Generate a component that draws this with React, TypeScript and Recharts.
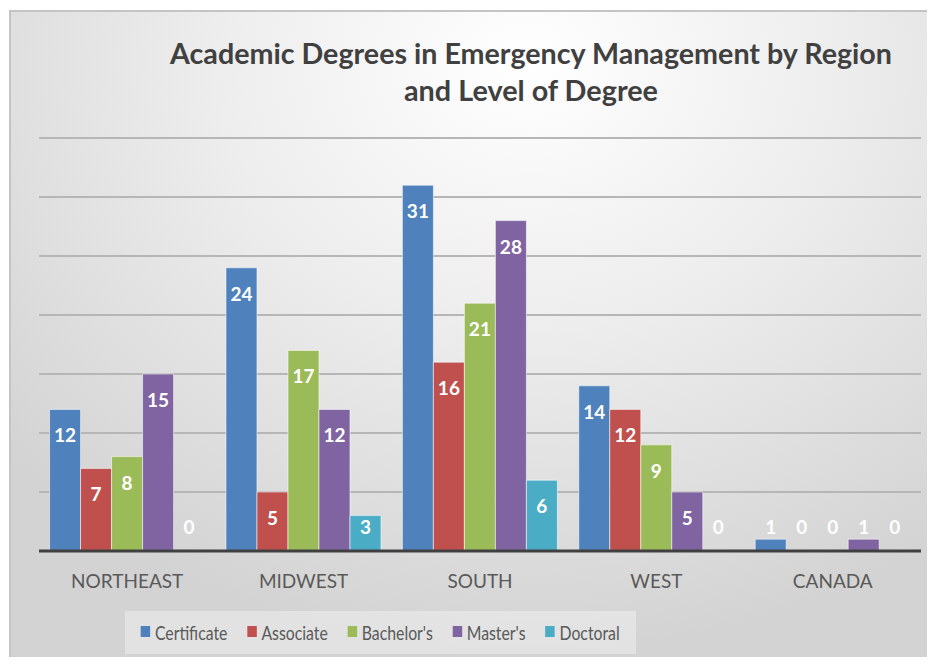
import { Bar, BarChart, CartesianGrid, LabelList, XAxis, YAxis } from "recharts";

const regions = ["NORTHEAST", "MIDWEST", "SOUTH", "WEST", "CANADA"];
const certificate = [12, 24, 31, 14, 1];
const associate = [7, 5, 16, 12, 0];
const bachelors = [8, 17, 21, 9, 0];
const masters = [15, 12, 28, 5, 1];
const doctoral = [0, 3, 6, 0, 0];
const yTicks = [0, 5, 10, 15, 20, 25, 30, 35];

const series = [
  { key: "certificate", name: "Certificate", color: "#4f81bd", values: certificate },
  { key: "associate", name: "Associate", color: "#c0504d", values: associate },
  { key: "bachelors", name: "Bachelor's", color: "#9bbb59", values: bachelors },
  { key: "masters", name: "Master's", color: "#8064a2", values: masters },
  { key: "doctoral", name: "Doctoral", color: "#4bacc6", values: doctoral },
];

const data = regions.map((region, i) => {
  const row: Record<string, string | number> = { region };
  series.forEach((s) => (row[s.key] = s.values[i]));
  return row;
});

const FONT = "Lato, 'Open Sans', sans-serif";

function BarLabel(props: any) {
  const { x, y, width, height, value } = props;
  const top = Number(y);
  const h = Number(height);
  const ty = Math.min(top + 33, top + h - 17);
  return (
    <text
      x={Number(x) + Number(width) / 2}
      y={ty}
      textAnchor="middle"
      fill="#ffffff"
      fontSize={19}
      fontWeight={700}
      fontFamily={FONT}
    >
      {value}
    </text>
  );
}

function RegionTick(props: any) {
  const { x, y, payload } = props;
  return (
    <text x={x} y={Number(y) + 29} textAnchor="middle" fill="#595959" fontSize={19} fontFamily={FONT}>
      {payload.value}
    </text>
  );
}

export default function App() {
  return (
    <div style={{ position: "relative", width: 935, height: 665, margin: -8, background: "#fff", overflow: "hidden" }}>
      <div
        style={{
          position: "absolute",
          left: 9,
          top: 10,
          width: 926,
          height: 655,
          background: "radial-gradient(ellipse 75% 90% at 56% 8%, #ffffff 0%, #ededed 45%, #d3d3d3 100%)",
          boxShadow: "inset 2px 2px 0 #c4c4c4",
        }}
      >
        <BarChart
          width={926}
          height={655}
          data={data}
          margin={{ top: 128, right: 14, bottom: 84, left: 30 }}
          barCategoryGap="6%"
          barGap={0}
        >
          <CartesianGrid vertical={false} stroke="#b6b6b6" strokeWidth={2} />
          <YAxis hide domain={[0, 35]} ticks={yTicks} />
          <XAxis
            dataKey="region"
            axisLine={{ stroke: "#404040", strokeWidth: 3 }}
            tickLine={false}
            tick={<RegionTick />}
            height={30}
          />
          {series.map((s) => (
            <Bar
              key={s.key}
              dataKey={s.key}
              name={s.name}
              fill={s.color}
              stroke="rgba(255,255,255,0.55)"
              strokeWidth={1}
              minPointSize={0.01}
              isAnimationActive={false}
            >
              <LabelList dataKey={s.key} content={<BarLabel />} />
            </Bar>
          ))}
        </BarChart>
        <div
          style={{
            position: "absolute",
            left: 116,
            top: 601,
            width: 511,
            height: 43,
            background: "rgba(255,255,255,0.35)",
            display: "flex",
            alignItems: "center",
            justifyContent: "center",
          }}
        >
          <div
            style={{
              display: "flex",
              alignItems: "center",
              gap: 25,
              fontFamily: FONT,
              fontSize: 20,
              color: "#595959",
              transform: "scaleX(0.79) translateY(-1px)",
              transformOrigin: "center",
              whiteSpace: "nowrap",
              flexShrink: 0,
            }}
          >
            {series.map((s) => (
              <div key={s.key} style={{ display: "flex", alignItems: "center" }}>
                <span style={{ width: 12, height: 11, background: s.color, display: "inline-block", marginRight: 6 }} />
                <span>{s.name}</span>
              </div>
            ))}
          </div>
        </div>
      </div>
      <svg width={935} height={665} style={{ position: "absolute", left: 0, top: 0, pointerEvents: "none" }}>
        <text
          x={531}
          y={64}
          textAnchor="middle"
          fontSize={28}
          fontWeight={700}
          fill="#404040"
          fontFamily={FONT}
          textLength={722}
          lengthAdjust="spacingAndGlyphs"
        >
          Academic Degrees in Emergency Management by Region
        </text>
        <text
          x={531}
          y={101}
          textAnchor="middle"
          fontSize={28}
          fontWeight={700}
          fill="#404040"
          fontFamily={FONT}
          textLength={254}
          lengthAdjust="spacingAndGlyphs"
        >
          and Level of Degree
        </text>
      </svg>
    </div>
  );
}
